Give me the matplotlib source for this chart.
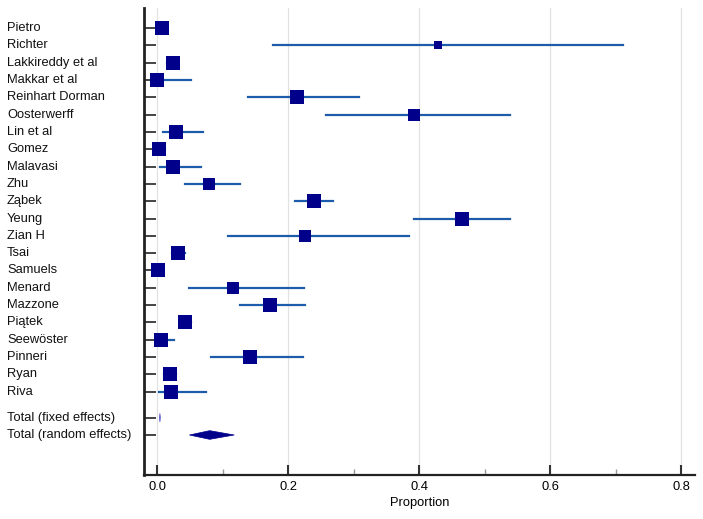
import numpy as np
import matplotlib.pyplot as plt
from matplotlib.patches import Polygon
from matplotlib.transforms import blended_transform_factory

plt.rcParams['font.family'] = ['Liberation Sans', 'DejaVu Sans']

##study names, proportions and 95% CI
studies = ["Pietro", "Richter", "Lakkireddy et al", "Makkar et al", "Reinhart Dorman",
           "Oosterwerff", "Lin et al", "Gomez", "Malavasi", "Zhu", "Ząbek", "Yeung",
           "Zian H", "Tsai", "Samuels", "Menard", "Mazzone", "Piątek", "Seewöster",
           "Pinneri", "Ryan", "Riva"]
prop = [0.007, 0.428, 0.024, 0.000, 0.214, 0.392, 0.028, 0.003, 0.024, 0.079, 0.239,
        0.466, 0.225, 0.031, 0.001, 0.116, 0.172, 0.043, 0.005, 0.142, 0.019, 0.021]
lower = [0.000, 0.176, 0.015, 0.000, 0.138, 0.258, 0.008, 0.000, 0.004, 0.043, 0.210,
         0.392, 0.108, 0.022, 0.000, 0.048, 0.126, 0.034, 0.000, 0.082, 0.010, 0.003]
upper = [0.015, 0.711, 0.032, 0.051, 0.308, 0.538, 0.070, 0.012, 0.067, 0.127, 0.269,
         0.538, 0.384, 0.042, 0.006, 0.224, 0.225, 0.052, 0.026, 0.222, 0.028, 0.074]
##relative weights (%) -> square size
weight = [4.9, 2.0, 4.9, 4.4, 4.9, 4.0, 4.4, 4.4, 4.4, 4.2, 4.9, 4.4, 3.6, 4.9, 4.9,
          3.6, 4.4, 5.3, 4.4, 4.4, 4.9, 4.4]

totals = ["Total (fixed effects)", "Total (random effects)"]
total_est = [0.004, 0.080]
total_lo = [0.0033, 0.049]
total_hi = [0.0047, 0.1175]

navy = "#00008B"
ci_col = "#1c5caa"

fig = plt.figure(figsize=(7.03, 5.19), dpi=100)
ax = fig.add_axes([144/703, 44/519, (695-144)/703, (475-8)/519])

ypos = np.arange(len(studies))
ypos_tot = [len(studies) + 0.5, len(studies) + 1.5]

##grid
for gx in [0.0, 0.2, 0.4, 0.6, 0.8]:
    ax.axvline(gx, color="#e2e2e2", lw=0.9, zorder=0)

##studies
for i in range(len(studies)):
    ax.plot([lower[i], upper[i]], [ypos[i], ypos[i]], color=ci_col, lw=1.6, zorder=2)
    side = 6.3 * np.sqrt(weight[i])
    ax.plot(prop[i], ypos[i], marker="s", color=navy, markersize=side * 0.72,
            markeredgewidth=0, zorder=3)

##pooled diamonds
for j in range(2):
    h = 0.25
    y = ypos_tot[j]
    d = Polygon([[total_lo[j], y], [total_est[j], y - h], [total_hi[j], y],
                 [total_est[j], y + h]], closed=True, color=navy, lw=0.5, zorder=3)
    if j == 0:
        d.set_color("#5a5ad0")
    ax.add_patch(d)

ax.set_xlim(-0.0203, 0.821)
ax.set_ylim(25.81, -1.155)

ax.spines["top"].set_visible(False)
ax.spines["right"].set_visible(False)
ax.spines["left"].set_linewidth(2)
ax.spines["bottom"].set_linewidth(1.6)
ax.spines["left"].set_color("#222222")
ax.spines["bottom"].set_color("#222222")

ax.set_xticks([0.0, 0.2, 0.4, 0.6, 0.8])
ax.set_xticklabels(["0.0", "0.2", "0.4", "0.6", "0.8"])
ax.set_xticks([0.1, 0.3, 0.5, 0.7], minor=True)
ax.tick_params(axis="x", which="major", direction="in", length=7, width=1.5,
               color="#333333", labelsize=9.3, pad=4)
ax.tick_params(axis="x", which="minor", direction="in", length=4, width=1,
               color="#999999")
ax.set_xlabel("Proportion", fontsize=9.3, labelpad=3)

ax.set_yticks(list(ypos) + ypos_tot)
ax.set_yticklabels([])
ax.tick_params(axis="y", direction="in", length=8.5, width=1.4, color="#444444")

##left aligned row labels
trans = blended_transform_factory(fig.transFigure, ax.transData)
for name, y in zip(studies + totals, list(ypos) + ypos_tot):
    ax.text(7/703, y, name, transform=trans, ha="left", va="center", fontsize=9.3,
            color="#111111")

fig.savefig("out.png", dpi=100)
